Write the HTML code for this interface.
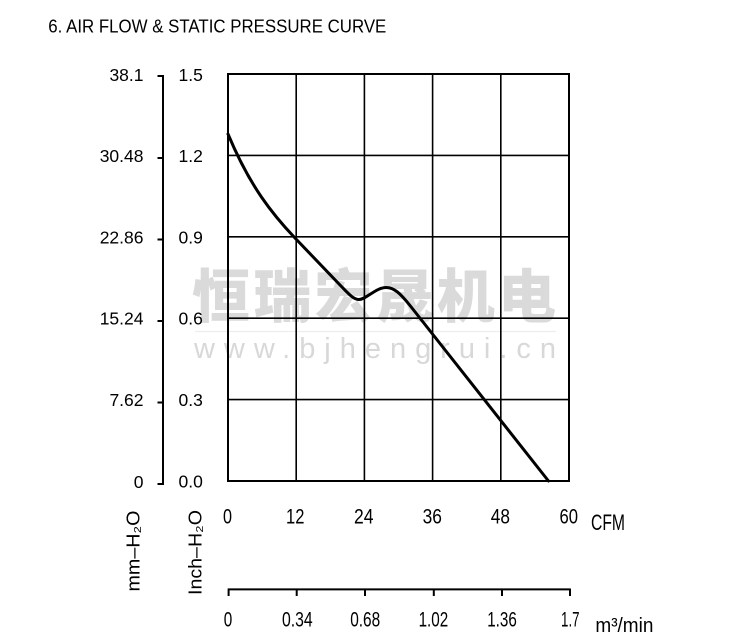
<!DOCTYPE html>
<html><head><meta charset="utf-8"><style>
html,body{margin:0;padding:0;background:#fff;}
svg{display:block;}
text{font-family:"Liberation Sans","Noto Sans CJK SC",sans-serif;fill:#000;}
</style></head><body>
<svg width="750" height="637" viewBox="0 0 750 637" xmlns="http://www.w3.org/2000/svg">
<rect width="750" height="637" fill="#fff"/>
<!-- title -->
<text x="48.3" y="32.7" font-size="18.5" textLength="338" lengthAdjust="spacingAndGlyphs">6. AIR FLOW &amp; STATIC PRESSURE CURVE</text>

<!-- watermark -->
<text x="192" y="317" font-size="58" font-weight="900" style="font-family:'Noto Sans CJK SC','WenQuanYi Zen Hei',sans-serif;fill:#dadada" textLength="364" lengthAdjust="spacing">恒瑞宏晟机电</text>
<line x1="195" y1="331.5" x2="556" y2="331.5" stroke="#ededed" stroke-width="1.2"/>
<text x="194" y="358" font-size="29" style="fill:#d8d8d8" textLength="362" lengthAdjust="spacing">www.bjhengrui.cn</text>

<!-- grid -->
<g stroke="#000" fill="none">
<rect x="228" y="74" width="341" height="407" stroke-width="2"/>
<g stroke-width="1.6">
<line x1="296.2" y1="74" x2="296.2" y2="481"/>
<line x1="364.4" y1="74" x2="364.4" y2="481"/>
<line x1="432.6" y1="74" x2="432.6" y2="481"/>
<line x1="500.8" y1="74" x2="500.8" y2="481"/>
<line x1="228" y1="155.4" x2="569" y2="155.4"/>
<line x1="228" y1="236.8" x2="569" y2="236.8"/>
<line x1="228" y1="318.2" x2="569" y2="318.2"/>
<line x1="228" y1="399.6" x2="569" y2="399.6"/>
</g>
</g>

<!-- curve -->
<path fill="none" stroke="#000" stroke-width="3" stroke-linejoin="round" stroke-linecap="round"
d="M228,134 C250,186.8 273,214.9 295,238 L340,285 C348,293 353,299.5 359,299.5 C366,299.5 376,287.5 386,287.5 C394,287.5 400,293 410,305.5 L548.5,481"/>

<!-- left axis -->
<g stroke="#000" stroke-width="2" fill="none">
<line x1="163" y1="75" x2="163" y2="485"/>
<line x1="157.5" y1="76" x2="163" y2="76"/>
<line x1="157.5" y1="158" x2="163" y2="158"/>
<line x1="157.5" y1="239.5" x2="163" y2="239.5"/>
<line x1="157.5" y1="321" x2="163" y2="321"/>
<line x1="157.5" y1="402.5" x2="163" y2="402.5"/>
<line x1="157.5" y1="484" x2="163" y2="484"/>
</g>
<g font-size="17.5" text-anchor="end">
<text x="143.5" y="81">38.1</text>
<text x="143.5" y="162">30.48</text>
<text x="143.5" y="243.3">22.86</text>
<text x="143.5" y="324.5">15.24</text>
<text x="143.5" y="406">7.62</text>
<text x="143.5" y="488">0</text>
</g>
<g font-size="17.5">
<text x="178.5" y="81">1.5</text>
<text x="178.5" y="162">1.2</text>
<text x="178.5" y="243.3">0.9</text>
<text x="178.5" y="324.5">0.6</text>
<text x="178.5" y="406">0.3</text>
<text x="178.5" y="487.5">0.0</text>
</g>

<!-- CFM labels -->
<g font-size="21" text-anchor="middle">
<text x="227.5" y="523.5" textLength="9" lengthAdjust="spacingAndGlyphs">0</text>
<text x="295.2" y="523.5" textLength="18.4" lengthAdjust="spacingAndGlyphs">12</text>
<text x="363.8" y="523.5" textLength="19.5" lengthAdjust="spacingAndGlyphs">24</text>
<text x="432.3" y="523.5" textLength="19.3" lengthAdjust="spacingAndGlyphs">36</text>
<text x="500.4" y="523.5" textLength="19.2" lengthAdjust="spacingAndGlyphs">48</text>
<text x="568.8" y="523.5" textLength="18.5" lengthAdjust="spacingAndGlyphs">60</text>
</g>
<text x="591" y="530" font-size="22.5" textLength="34" lengthAdjust="spacingAndGlyphs">CFM</text>

<!-- second axis -->
<g stroke="#000" stroke-width="2" fill="none">
<line x1="228" y1="589.4" x2="570" y2="589.4"/>
<line x1="228.6" y1="588.5" x2="228.6" y2="596"/>
<line x1="296.7" y1="588.5" x2="296.7" y2="596"/>
<line x1="365" y1="588.5" x2="365" y2="596"/>
<line x1="433.8" y1="588.5" x2="433.8" y2="596"/>
<line x1="502" y1="588.5" x2="502" y2="596"/>
<line x1="570" y1="588.5" x2="570" y2="596"/>
</g>
<g font-size="21" text-anchor="middle">
<text x="228" y="626.4" textLength="8.5" lengthAdjust="spacingAndGlyphs">0</text>
<text x="297.3" y="626.4" textLength="30.7" lengthAdjust="spacingAndGlyphs">0.34</text>
<text x="365.2" y="626.4" textLength="30" lengthAdjust="spacingAndGlyphs">0.68</text>
<text x="433.4" y="626.4" textLength="29.6" lengthAdjust="spacingAndGlyphs">1.02</text>
<text x="502" y="626.4" textLength="29.6" lengthAdjust="spacingAndGlyphs">1.36</text>
<text x="570.3" y="626.4" textLength="18.5" lengthAdjust="spacingAndGlyphs">1.7</text>
</g>
<text x="595.4" y="632" font-size="20" textLength="58" lengthAdjust="spacingAndGlyphs">m³/min</text>

<!-- rotated unit labels -->
<text transform="translate(139.5,591.5) rotate(-90)" font-size="18" textLength="81" lengthAdjust="spacingAndGlyphs">mm–H₂O</text>
<text transform="translate(201.5,595) rotate(-90)" font-size="18" textLength="85" lengthAdjust="spacingAndGlyphs">Inch–H₂O</text>
</svg>
</body></html>
